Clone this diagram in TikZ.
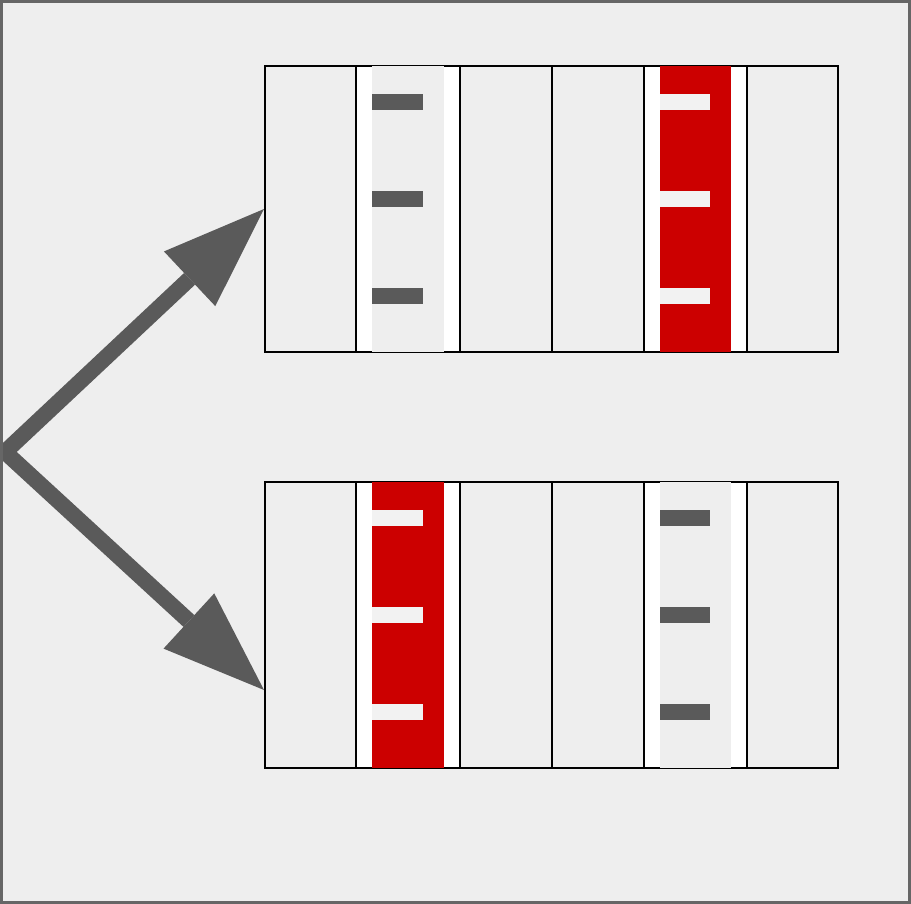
\documentclass[tikz,border=0pt]{standalone}
\usetikzlibrary{arrows.meta}
\definecolor{bg}{HTML}{EEEEEE}
\definecolor{darkg}{HTML}{5A5A5A}
\definecolor{redstrip}{HTML}{CC0000}
\definecolor{lightdash}{HTML}{F2F2F2}
\definecolor{framec}{HTML}{666666}
\begin{document}
\begin{tikzpicture}[x=1pt,y=-1pt,
  panel/.style={draw=black,line width=2pt,fill=bg,inner sep=0pt,minimum width=573pt,minimum height=286pt},
  holder/.style={draw=black,line width=2pt,fill=white},
  cellline/.style={draw=black,line width=2pt},
  bigarrow/.style={draw=darkg,line width=16pt,line join=miter,
    {Triangle[length=102pt 0 0,width=75pt 0 0,line width=0pt]}-{Triangle[length=102pt 0 0,width=75pt 0 0,line width=0pt]}},
  framebox/.style={draw=framec,line width=2.5pt}]
\useasboundingbox (0,0) rectangle (911,904);
\fill[bg] (0,0) rectangle (911,904);
% panels
\node[panel] (p1) at (551.5,209) {};
\node[panel] (p2) at (551.5,625) {};
\foreach \y/\ca/\da/\cb/\db in {66/bg/darkg/redstrip/lightdash, 482/redstrip/lightdash/bg/darkg}{
  \draw[cellline] (552,\y) -- (552,\y+286);
  \draw[holder] (356,\y) rectangle (460,\y+286);
  \fill[\ca] (372,\y) rectangle (444,\y+286);
  \draw[holder] (644,\y) rectangle (747,\y+286);
  \fill[\cb] (660,\y) rectangle (731,\y+286);
  \foreach \k in {28,125,222}{
    \fill[\da] (372,\y+\k) rectangle (423,\y+\k+16);
    \fill[\db] (660,\y+\k) rectangle (710,\y+\k+16);
  }
}
% arrows
\coordinate (src) at (5,452);
\coordinate (t1) at (p1.west);
\coordinate (t2) at ([yshift=-65pt]p2.west);
\draw[bigarrow] (t1) -- (src) -- (t2);
% frame
\draw[framebox] (1.5,1.5) rectangle (909.5,902.5);
\end{tikzpicture}
\end{document}
